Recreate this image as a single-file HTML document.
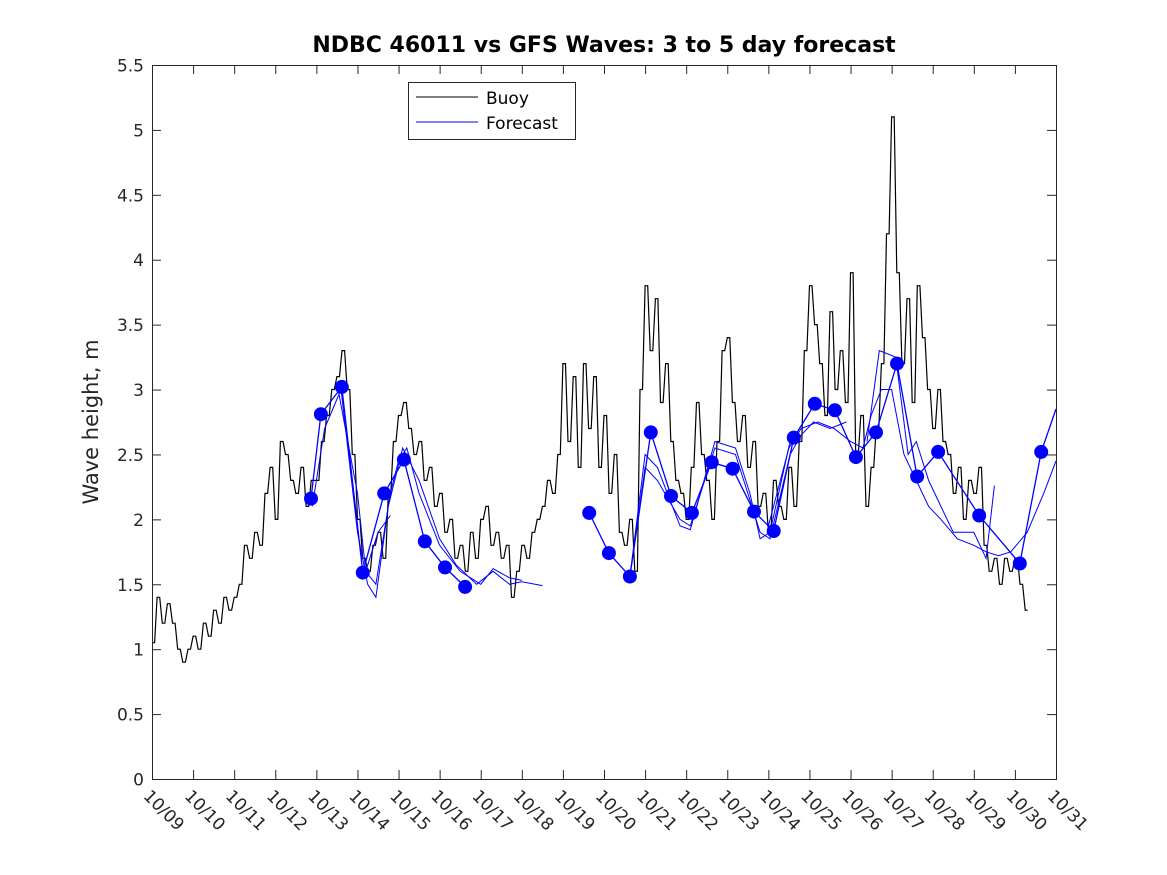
<!DOCTYPE html>
<html><head><meta charset="utf-8">
<style>
html,body{margin:0;padding:0;background:#fff;}
svg{display:block;font-family:"DejaVu Sans","Liberation Sans",sans-serif;}
</style></head>
<body>
<svg id="chart" width="1167" height="875" viewBox="0 0 1167 875">
<rect x="0" y="0" width="1167" height="875" fill="#fff"/>
<text x="604" y="52" text-anchor="middle" font-size="22" font-weight="bold" fill="#000">NDBC 46011 vs GFS Waves: 3 to 5 day forecast</text>
<text transform="translate(98,422) rotate(-90)" text-anchor="middle" font-size="21" fill="#262626">Wave height, m</text>
<g id="plot"></g>
<g id="axes"></g>
<g id="legend">
<rect x="408.5" y="82.5" width="167" height="57" fill="#fff" stroke="#262626" stroke-width="1"/>
<line x1="416" y1="97" x2="478" y2="97" stroke="#000" stroke-width="1"/>
<text x="486" y="104" font-size="17" fill="#000">Buoy</text>
<line x1="416" y1="122" x2="478" y2="122" stroke="#0000ff" stroke-width="1"/>
<text x="486" y="129" font-size="17" fill="#000">Forecast</text>
</g>
</svg>
<script>
// ---- data ----
const xTickLabels = ["10/09","10/10","10/11","10/12","10/13","10/14","10/15","10/16","10/17","10/18","10/19","10/20","10/21","10/22","10/23","10/24","10/25","10/26","10/27","10/28","10/29","10/30","10/31"];
const yTicks = [0,0.5,1,1.5,2,2.5,3,3.5,4,4.5,5,5.5];
const yTickLabels = ["0","0.5","1","1.5","2","2.5","3","3.5","4","4.5","5","5.5"];
// buoy: 8 samples per day starting 10/09
const buoyValues = [
1.05,1.4,1.2,1.35,1.2,1.0,0.9,1.0,
1.1,1.0,1.2,1.1,1.3,1.2,1.4,1.3,
1.4,1.5,1.8,1.7,1.9,1.8,2.2,2.4,
2.0,2.6,2.5,2.3,2.2,2.4,2.1,2.3,
2.3,2.6,2.8,3.0,3.1,3.3,3.0,2.5,
2.0,1.7,1.6,1.8,1.9,1.7,2.2,2.6,
2.8,2.9,2.7,2.5,2.6,2.3,2.4,2.1,
2.2,1.9,2.0,1.7,1.8,1.6,1.9,1.7,
2.0,2.1,1.8,1.9,1.7,1.8,1.4,1.6,
1.8,1.7,1.9,2.0,2.1,2.3,2.2,2.5,
3.2,2.6,3.1,2.4,3.2,2.7,3.1,2.4,
2.8,2.2,2.5,1.9,1.8,2.0,1.6,3.0,
3.8,3.3,3.7,2.9,3.2,2.6,2.3,2.2,
2.0,2.4,2.9,2.5,2.3,2.0,2.6,3.3,
3.4,2.9,2.6,2.8,2.4,2.6,2.1,2.2,
1.9,2.3,2.1,2.0,2.4,2.1,2.6,3.3,
3.8,3.5,3.2,2.8,3.6,3.0,3.3,2.9,
3.9,2.5,2.8,2.1,2.4,2.7,3.2,4.2,
5.1,3.9,3.2,3.7,2.9,3.8,3.4,3.0,
2.7,3.0,2.6,2.5,2.2,2.4,2.0,2.3,
2.2,2.4,1.8,1.6,1.7,1.5,1.7,1.6,
1.7,1.5,1.3];
const buoyStep = 0.125;
// forecast runs (days since 10/09)
const run1Days = [3.9,4.2,4.6,5.0,5.25,5.45,5.75,6.1,6.5,7.0,7.4,7.9,8.3,8.7,9.0,9.5];
const run1Vals = [2.1,2.7,3.0,1.9,1.5,1.4,2.1,2.55,2.3,1.85,1.65,1.5,1.6,1.5,1.52,1.49];
const run2Days = [4.5,5.0,5.2,5.45,5.8,6.0,6.2,6.5,7.0,7.5,8.0,8.3,8.7,9.0];
const run2Vals = [3.05,2.2,1.6,1.5,2.2,2.45,2.55,2.2,1.8,1.6,1.5,1.62,1.55,1.53];
const run3Days = [5.2,5.5,5.8];
const run3Vals = [1.6,1.9,2.03];
const run4Days = [11.63,12.0,12.3,12.85,13.1,13.7,14.2,14.55,14.8,15.04,15.53,15.8,16.1,16.5,16.9];
const run4Vals = [1.56,2.4,2.3,2.0,1.95,2.55,2.5,2.15,1.9,1.85,2.5,2.65,2.75,2.7,2.75];
const run5Days = [11.63,12.0,12.3,12.85,13.1,13.7,14.2,14.55,14.8,15.04,15.53,15.8];
const run5Vals = [1.56,2.5,2.4,1.95,1.92,2.6,2.55,2.2,1.85,1.9,2.6,2.6];
const run6Days = [15.0,15.5,15.8,16.2,16.6,17.0,17.3,17.5,17.75,18.0,18.3,18.6,18.9,19.2,19.6,20.0,20.3,20.6,20.9,21.3,21.7,22.0];
const run6Vals = [1.95,2.55,2.7,2.75,2.7,2.6,2.55,2.8,3.0,3.0,2.5,2.3,2.1,2.0,1.85,1.8,1.75,1.72,1.75,1.9,2.2,2.45];
const run7Days = [17.4,17.7,18.1,18.4,18.6,18.9,19.2,19.5,20.0,20.3,20.5];
const run7Vals = [2.6,3.3,3.25,2.5,2.6,2.3,2.1,1.9,1.9,1.7,2.26];
// marker series (two segments)
const mark1Days = [3.87,4.11,4.62,5.13,5.65,6.13,6.64,7.13,7.62];
const mark1Vals = [2.16,2.81,3.02,1.59,2.2,2.46,1.83,1.63,1.48];
const mark2Days = [10.64,11.12,11.63,12.14,12.63,13.14,13.62,14.13,14.65,15.13,15.62,16.13,16.62,17.13,17.62,18.13,18.62,19.13,20.13,21.12,21.64];
const mark2Vals = [2.05,1.74,1.56,2.67,2.18,2.05,2.44,2.39,2.06,1.91,2.63,2.89,2.84,2.48,2.67,3.2,2.33,2.52,2.03,1.66,2.52];
const mark2TailDay = 22.0, mark2TailVal = 2.85;

// ---- axes functions ----
const X0=152, X1=1056, Y0=779, Y1=65;
const xS = d => X0 + d*(X1-X0)/22;
const yS = v => Y0 - v*(Y0-Y1)/5.5;
const NS="http://www.w3.org/2000/svg";
function mk(tag, attrs, parent){const e=document.createElementNS(NS,tag);for(const k in attrs)e.setAttribute(k,attrs[k]);parent.appendChild(e);return e;}
const plot=document.getElementById('plot');
const axes=document.getElementById('axes');

// buoy line (stair-stepped to mimic quantized hourly data)
let bp = '';
buoyValues.forEach((v,i)=>{
  const x=xS(i*buoyStep), y=yS(v);
  if(i===0){bp+='M'+x.toFixed(1)+','+y.toFixed(1);}
  else {bp+='L'+x.toFixed(1)+','+y.toFixed(1);}
  bp+='L'+xS(i*buoyStep+buoyStep*0.5).toFixed(1)+','+y.toFixed(1);
});
const buoy = mk('path',{d:bp,fill:'none',stroke:'#000','stroke-width':1.2,'stroke-linejoin':'miter'},plot);



function line(days, vals, name, w){
  const d = days.map((dd,i)=>(i?'L':'M')+xS(dd).toFixed(1)+','+yS(vals[i]).toFixed(1)).join('');
  const p = mk('path',{d:d,fill:'none',stroke:'#0000ff','stroke-width':w},plot);
  
  
}
line(run1Days,run1Vals,'forecast-run-1',1);
line(run2Days,run2Vals,'forecast-run-2',1);
line(run3Days,run3Vals,'forecast-run-3',1);
line(run4Days,run4Vals,'forecast-run-4',1);
line(run5Days,run5Vals,'forecast-run-5',1);
line(run6Days,run6Vals,'forecast-run-6',1);
line(run7Days,run7Vals,'forecast-run-7',1);
line(mark1Days,mark1Vals,'forecast-marker-line-1',1.3);
line(mark2Days.concat([mark2TailDay]),mark2Vals.concat([mark2TailVal]),'forecast-marker-line-2',1.3);
mark1Days.concat(mark2Days).forEach((d,i)=>{
  const v = mark1Vals.concat(mark2Vals)[i];
  const c = mk('circle',{cx:xS(d).toFixed(1),cy:yS(v).toFixed(1),r:7,fill:'#0000ff'},plot);
  
  
});

// axes box
const box = mk('rect',{x:X0+0.5,y:Y1+0.5,width:X1-X0,height:Y0-Y1,fill:'none',stroke:'#262626','stroke-width':1},axes);


yTicks.forEach((v,i)=>{
  const y=yS(v)+0.5;
  mk('line',{x1:X0,y1:y,x2:X0+9,y2:y,stroke:'#262626'},axes);
  mk('line',{x1:X1-9,y1:y,x2:X1,y2:y,stroke:'#262626'},axes);
  const t=mk('text',{x:X0-8,y:y+6,'text-anchor':'end','font-size':17,fill:'#262626'},axes);
  t.textContent=yTickLabels[i];
  
  
});
xTickLabels.forEach((lab,i)=>{
  const x=xS(i)+0.5;
  mk('line',{x1:x,y1:Y0,x2:x,y2:Y0-9,stroke:'#262626'},axes);
  mk('line',{x1:x,y1:Y1,x2:x,y2:Y1+9,stroke:'#262626'},axes);
  const t=mk('text',{transform:`translate(${x-10},${Y0+18}) rotate(45)`,'font-size':17,fill:'#262626'},axes);
  t.textContent=lab;
  
  
});
</script>
</body></html>
